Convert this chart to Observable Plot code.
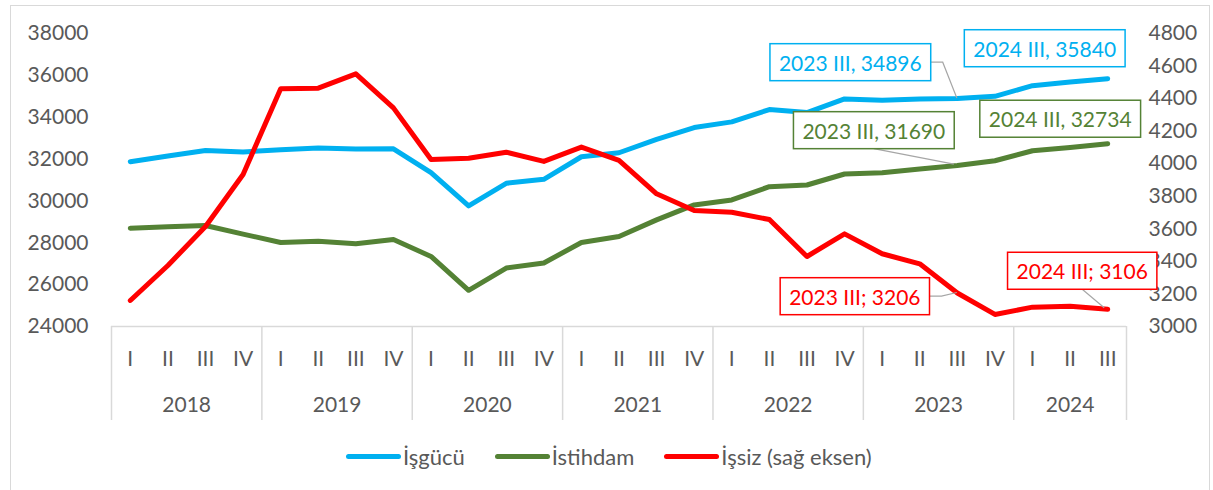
<!DOCTYPE html>
<html><head><meta charset="utf-8">
<script src="https://cdn.jsdelivr.net/npm/d3@7"></script>
<script src="https://cdn.jsdelivr.net/npm/@observablehq/plot@0.6"></script>
<style>
body{margin:0;background:#fff;font-family:Lato, sans-serif;}
#wrap{position:relative;width:1213px;height:490px;overflow:hidden;}
#frame{position:absolute;left:10px;top:5px;width:1200px;height:520px;border:1.5px solid #d9d9d9;box-sizing:border-box;}
#chart{position:absolute;left:0;top:0;}
#legend{position:absolute;top:443px;left:346px;display:flex;align-items:center;font-size:22px;color:#595959;white-space:nowrap;height:26px;}
.item{display:flex;align-items:center;margin-right:30px;}
.sw{width:55px;height:5px;border-radius:3px;margin-right:2px;}
</style></head><body>
<div id="wrap"><div id="frame"></div><div id="chart"></div><div id="legend"></div></div>
<script>
// ---- data ----
const quarters = ["I","II","III","IV","I","II","III","IV","I","II","III","IV","I","II","III","IV","I","II","III","IV","I","II","III","IV","I","II","III"];
const years = ["2018","2019","2020","2021","2022","2023","2024"];
const isgucu = [31872,32143,32410,32340,32443,32524,32476,32492,31349,29762,30843,31033,32111,32302,32937,33508,33778,34365,34222,34873,34810,34870,34896,35000,35508,35683,35840];
const istihdam = [28698,28762,28825,28413,28016,28079,27952,28159,27349,25730,26794,27032,28016,28302,29095,29810,30048,30683,30762,31286,31349,31524,31690,31921,32397,32556,32734];
const issiz = [3160,3375,3614,3934,4460,4464,4552,4343,4026,4034,4071,4014,4102,4020,3815,3713,3702,3657,3430,3569,3447,3385,3206,3074,3119,3125,3106];
const leftTicks = [24000,26000,28000,30000,32000,34000,36000,38000];
const rightTicks = [3000,3200,3400,3600,3800,4000,4200,4400,4600,4800];
const seriesNames = ["İşgücü","İstihdam","İşsiz (sağ eksen)"];
const labelText = ["2023 III, 34896","2024 III, 35840","2023 III, 31690","2024 III, 32734","2023 III; 3206","2024 III; 3106"];
const labelIndex = [22,26,22,26,22,26];
const labelSeries = [0,0,1,1,2,2];

// ---- styling / layout ----
const colors = ["#00B0F0","#548235","#FF0000"];
const labelOffsets = [[-107,-34.5],[-63,-28.7],[-83.5,-33.6],[-47.5,-23.2],[-102.5,5],[-25.5,-36.7]];
const leaderType = ["right",null,"bottom",null,"right","bottom"];

// secondary axis mapping onto the primary y scale
const L0 = 24000, L1 = 38000, R0 = 3000, R1 = 4800;
const toLeft = v => L0 + (v - R0) * (L1 - L0) / (R1 - R0);
const fromLeft = v => R0 + (v - L0) * (R1 - R0) / (L1 - L0);

const rows = (arr, s, f = d => d) => arr.map((v, i) => ({i, v: f(v), s}));
const blue = rows(isgucu, 0), green = rows(istihdam, 1), red = rows(issiz, 2, toLeft);
const series = [blue, green, red];
const qData = quarters.map((q, i) => ({i, q}));
let start = 0;
const yData = years.map(y => { const n = y === "2024" ? 3 : 4; const o = {y, mid: start + (n - 1) / 2}; start += n; return o; });
const boundaries = [-0.5]; { let s = -0.5; years.forEach(y => { s += (y === "2024" ? 3 : 4); boundaries.push(s); }); }

const labels = labelText.map((t, k) => ({t, i: labelIndex[k], s: labelSeries[k], v: series[labelSeries[k]][labelIndex[k]].v}));

const lineOpts = (c) => ({x: "i", y: "v", stroke: c, strokeWidth: 5, strokeLinecap: "round", strokeLinejoin: "round"});

const marks = [
  Plot.ruleY([L0], {stroke: "#d9d9d9", strokeWidth: 1.5}),
  Plot.axisX({ticks: boundaries, tickSize: 94, tickFormat: () => "", stroke: "#d9d9d9", strokeWidth: 1.5, label: null}),
  Plot.axisY({anchor: "left", ticks: leftTicks, tickSize: 0, tickPadding: 23, tickFormat: d => String(d), fontSize: 21, label: null}),
  Plot.axisY({anchor: "right", ticks: rightTicks.map(toLeft), tickSize: 0, tickPadding: 22, tickFormat: d => String(Math.round(fromLeft(d))), fontSize: 21, label: null}),
  Plot.text(qData, {x: "i", text: "q", frameAnchor: "bottom", dy: 33, lineAnchor: "middle", fill: "#595959", fontSize: 21}),
  Plot.text(yData, {x: "mid", text: "y", frameAnchor: "bottom", dy: 79, lineAnchor: "middle", fill: "#595959", fontSize: 21}),
  Plot.line(blue, lineOpts(colors[0])),
  Plot.line(green, lineOpts(colors[1])),
  Plot.line(red, lineOpts(colors[2])),
  ...labels.map((l, k) => Plot.text([l], {x: "i", y: "v", text: "t", dx: labelOffsets[k][0], dy: labelOffsets[k][1], fill: colors[l.s], fontSize: 21, lineAnchor: "middle", textAnchor: "middle"}))
];

const plot = Plot.plot({
  width: 1213, height: 430,
  marginLeft: 111, marginRight: 87, marginTop: 33, marginBottom: 104,
  x: {type: "linear", domain: [-0.5, 26.5], label: null},
  y: {domain: [L0, L1], label: null},
  style: {fontFamily: "Lato, sans-serif", fontSize: "21px", color: "#595959", background: "transparent", overflow: "visible"},
  marks
});
document.getElementById("chart").append(plot);

// boxes and leader lines around data labels
const xs = plot.scale("x"), ys = plot.scale("y");
const svgNS = "http://www.w3.org/2000/svg";
const groups = Array.from(plot.querySelectorAll('g[aria-label="text"]'));
const labelGroups = groups.slice(groups.length - labels.length);
const leaderLayer = document.createElementNS(svgNS, "g");
plot.insertBefore(leaderLayer, labelGroups[0]);
labelGroups.forEach((g, k) => {
  const t = g.querySelector("text");
  const b = t.getBBox();
  const padX = 9, padY = 6;
  const r = document.createElementNS(svgNS, "rect");
  r.setAttribute("x", b.x - padX); r.setAttribute("y", b.y - padY);
  r.setAttribute("width", b.width + 2 * padX); r.setAttribute("height", b.height + 2 * padY);
  r.setAttribute("fill", "white"); r.setAttribute("stroke", colors[labels[k].s]); r.setAttribute("stroke-width", 1.5);
  if (t.getAttribute("transform")) r.setAttribute("transform", t.getAttribute("transform"));
  g.insertBefore(r, t);
  const type = leaderType[k];
  if (type) {
    const sr = plot.getBoundingClientRect();
    const rb = r.getBoundingClientRect();
    const px = xs.apply(labels[k].i), py = ys.apply(labels[k].v);
    let pts;
    const L = rb.left - sr.left, R = rb.right - sr.left, T = rb.top - sr.top, B = rb.bottom - sr.top;
    if (type === "right") pts = [[R, (T + B) / 2], [R + 12, (T + B) / 2], [px, py]];
    else pts = [[(L + R) / 2, B], [px - 3, py - 1]];
    const p = document.createElementNS(svgNS, "path");
    p.setAttribute("d", "M" + pts.map(q => q.join(",")).join("L"));
    p.setAttribute("fill", "none"); p.setAttribute("stroke", "#a6a6a6"); p.setAttribute("stroke-width", 1.2);
    leaderLayer.append(p);
  }
});

// legend (HTML, below the SVG)
const legend = document.getElementById("legend");
seriesNames.forEach((n, k) => {
  const it = document.createElement("div"); it.className = "item";
  const sw = document.createElement("div"); sw.className = "sw"; sw.style.background = colors[k];
  const tx = document.createElement("span"); tx.textContent = n;
  it.append(sw, tx); legend.append(it);
});
</script>
</body></html>
